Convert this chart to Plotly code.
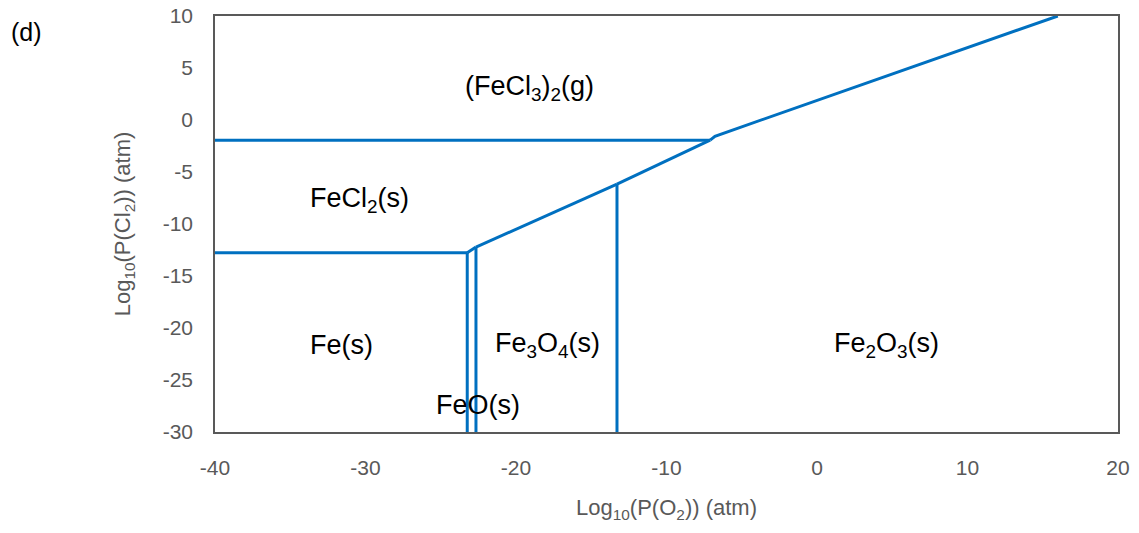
import plotly.graph_objects as go

# Phase boundaries (x = log10 P(O2), y = log10 P(Cl2))
fecl2_fecl3_x = [-40, -7.1]
fecl2_fecl3_y = [-1.94, -1.94]
fe_fecl2_x = [-40, -23.24]
fe_fecl2_y = [-12.77, -12.77]
fe_feo_x = [-23.24, -23.24]
fe_feo_y = [-30, -12.77]
feo_fecl2_x = [-23.24, -22.66]
feo_fecl2_y = [-12.77, -12.22]
feo_fe3o4_x = [-22.66, -22.66]
feo_fe3o4_y = [-30, -12.22]
fe3o4_fecl2_x = [-22.66, -13.29]
fe3o4_fecl2_y = [-12.22, -6.17]
fe3o4_fe2o3_x = [-13.29, -13.29]
fe3o4_fe2o3_y = [-30, -6.17]
fe2o3_fecl2_x = [-13.29, -7.1]
fe2o3_fecl2_y = [-6.17, -1.94]
fe2o3_fecl3_x = [-7.1, -6.78, 16.0]
fe2o3_fecl3_y = [-1.94, -1.56, 10.0]

segments = [
    (fecl2_fecl3_x, fecl2_fecl3_y),
    (fe_fecl2_x, fe_fecl2_y),
    (fe_feo_x, fe_feo_y),
    (feo_fecl2_x, feo_fecl2_y),
    (feo_fe3o4_x, feo_fe3o4_y),
    (fe3o4_fecl2_x, fe3o4_fecl2_y),
    (fe3o4_fe2o3_x, fe3o4_fe2o3_y),
    (fe2o3_fecl2_x, fe2o3_fecl2_y),
    (fe2o3_fecl3_x, fe2o3_fecl3_y),
]

# Region labels
label_texts = ["(FeCl<sub>3</sub>)<sub>2</sub>(g)", "FeCl<sub>2</sub>(s)", "Fe(s)",
               "Fe<sub>3</sub>O<sub>4</sub>(s)", "Fe<sub>2</sub>O<sub>3</sub>(s)", "FeO(s)"]
label_x = [-19.1, -30.4, -31.6, -17.9, 4.6, -22.5]
label_y = [3.1, -7.7, -21.6, -21.6, -21.6, -27.4]

x_ticks = [-40, -30, -20, -10, 0, 10, 20]
x_tick_labels = ["-40", "-30", "-20", "-10", "0", "10", "20"]
y_ticks = [10, 5, 0, -5, -10, -15, -20, -25, -30]
y_tick_labels = ["10", "5", "0", "-5", "-10", "-15", "-20", "-25", "-30"]

fig = go.Figure()
for sx, sy in segments:
    fig.add_trace(go.Scatter(x=sx, y=sy, mode="lines",
                             line=dict(color="#0070C0", width=3),
                             showlegend=False, hoverinfo="skip"))

for t, lx, ly in zip(label_texts, label_x, label_y):
    fig.add_annotation(x=lx, y=ly, text=t, showarrow=False,
                       font=dict(family="Liberation Sans, Arial", size=27, color="#000000"))

fig.add_annotation(xref="paper", yref="paper", x=-0.228, y=1.0, xanchor="left", yanchor="top",
                   text="(d)", showarrow=False,
                   font=dict(family="Liberation Sans, Arial", size=25, color="#000000"))

axis_font = dict(family="Liberation Sans, Arial", size=21, color="#595959")
fig.update_layout(
    width=1139, height=533,
    margin=dict(l=215, r=21, t=16, b=101, autoexpand=False),
    paper_bgcolor="white", plot_bgcolor="white",
    xaxis=dict(range=[-40, 20], tickvals=x_ticks, ticktext=x_tick_labels,
               showgrid=False, zeroline=False, automargin=False,
               showline=True, mirror=True, linecolor="#595959", linewidth=1.5,
               ticks="", tickfont=axis_font, ticklabelstandoff=16,
               title=dict(text="Log<sub>10</sub>(P(O<sub>2</sub>)) (atm)",
                          font=dict(family="Liberation Sans, Arial", size=22, color="#595959"),
                          standoff=22)),
    yaxis=dict(range=[-30, 10], tickvals=y_ticks, ticktext=y_tick_labels,
               showgrid=False, zeroline=False, automargin=False,
               showline=True, mirror=True, linecolor="#595959", linewidth=1.5,
               ticks="", tickfont=axis_font, ticklabelstandoff=16,
               title=dict(text="Log<sub>10</sub>(P(Cl<sub>2</sub>)) (atm)",
                          font=dict(family="Liberation Sans, Arial", size=22, color="#595959"),
                          standoff=26)),
)

fig.write_html("out.html", config={"displayModeBar": False},
               post_script="document.body.style.margin='0';document.body.style.padding='0';")
